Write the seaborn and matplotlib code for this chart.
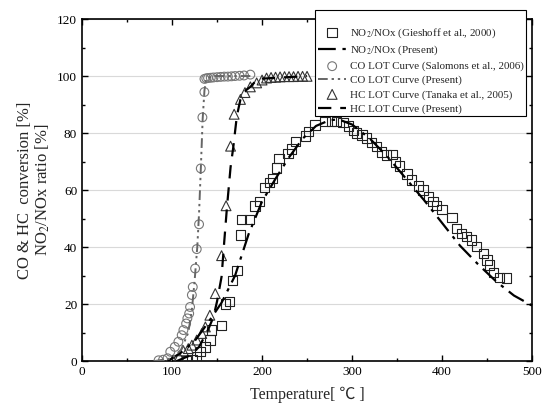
import pandas as pd
import seaborn as sns
import matplotlib.pyplot as plt
from matplotlib.ticker import MultipleLocator

# NO2/NOx ratio, measured (Gieshoff et al., 2000)
no2_x = [116, 122, 127, 131, 137, 142, 144, 155, 159, 164, 167, 172, 176, 177, 186,
         192, 197, 203, 208, 211.5, 216, 219, 229, 233, 237, 248, 251.5, 259, 270, 277,
         283, 290, 296, 301.5, 305, 311, 316, 322, 327, 333, 338.5, 345, 348.5, 353, 361,
         366, 374, 379, 385, 390, 394, 400, 411, 416, 422, 427, 433, 438.5, 446, 450,
         453, 457, 464, 472]
no2_y = [0.3, 0.6, 1.5, 3.3, 5, 7.4, 10.9, 12.4, 20, 21, 28.4, 31.7, 44.2, 49.7, 49.7,
         54.4, 55.9, 60.9, 62.7, 64.1, 67.8, 71.1, 72.9, 74.4, 77, 79, 80.5, 82.8, 84, 84.2,
         84, 83.6, 82.5, 81, 80, 79.3, 78.3, 76.7, 75.2, 73.4, 72.3, 72.5, 69.9, 68.4, 65.6,
         63.5, 61.4, 60, 57.7, 56.1, 54.7, 53.2, 50.4, 46.6, 44.8, 43.6, 42.5, 40.1, 37.8, 35.5,
         33.7, 31, 29.4, 29.2]

# NO2/NOx ratio, present model
no2_line_x = [95, 110, 125, 140, 155, 170, 185, 200, 215, 230, 245, 260, 275, 285,
              300, 320, 340, 360, 380, 400, 420, 440, 460, 480, 500]
no2_line_y = [0, 3, 7, 13.5, 20.5, 30, 44.5, 56, 64, 71.5, 78, 82.5, 84.5, 84.8,
              83, 78, 71.5, 64, 56.5, 48.5, 40.5, 34, 28, 23, 19.5]

# CO light-off, measured (Salomons et al., 2006)
co_x = [85, 90, 95, 98, 103, 107, 110.7, 112.6, 115.6, 117, 119, 120, 122, 123, 125.6,
        127.4, 130, 131.9, 133.7, 135.9, 136, 138, 140, 143, 146, 150, 154, 158, 162, 166,
        170, 175, 180, 187]
co_y = [0.3, 0.5, 1, 3.3, 5, 6.8, 9.1, 10.9, 13.2, 15, 16.7, 19, 23.2, 26, 32.5,
        39.3, 48, 67.6, 85.5, 94.4, 99, 99.2, 99.3, 99.4, 99.5, 99.6, 99.7, 99.8, 99.8, 99.9,
        100, 100.1, 100.2, 100.5]

# CO light-off, present model
co_line_x = [80, 100, 110, 118, 122, 125, 128, 130, 132, 134, 136, 138, 145, 187]
co_line_y = [0, 1, 4, 10, 18, 28, 40, 52, 68, 85, 95, 99, 100, 100]

# HC light-off, measured (Tanaka et al., 2005)
hc_x = [101, 108, 112.6, 118, 122, 127.4, 133, 137, 142, 148, 155, 160, 165, 169,
        176, 181, 187, 194, 200, 205, 210, 215, 220, 225, 230, 235, 240, 245, 250]
hc_y = [0.3, 1.5, 3.6, 4.4, 5.6, 7.4, 9.7, 12, 16.1, 23.7, 37, 54.5, 75.4, 86.6,
        91.8, 94.2, 96.2, 97.6, 98.6, 99.3, 99.5, 99.6, 99.7, 99.8, 99.8, 99.8, 99.9, 99.9, 99.9]

# HC light-off, present model
hc_line_x = [105, 120, 130, 140, 146, 150, 155, 158, 161, 165, 168, 172, 176, 182, 187, 195, 250]
hc_line_y = [0, 2, 5, 11, 15.5, 21, 29.6, 42, 54, 68, 75, 86, 91.8, 95, 96.2, 99, 100]

sns.set_style("ticks")
plt.rcParams['font.family'] = ['Liberation Serif', 'Noto Sans CJK SC', 'DejaVu Sans']
plt.rcParams['mathtext.fontset'] = 'stix'
plt.rcParams['xtick.direction'] = 'in'
plt.rcParams['ytick.direction'] = 'in'

fig, ax = plt.subplots(figsize=(5.51, 4.09), dpi=100)
fig.subplots_adjust(left=0.149, right=0.9655, bottom=0.117, top=0.9535)

ax.yaxis.grid(True, color='#d9d9d9', linewidth=0.8)
ax.set_axisbelow(True)

sns.scatterplot(x=no2_x, y=no2_y, marker='s', s=45, facecolor='none', edgecolor='#222222',
                linewidth=0.8, label='NO$_2$/NOx (Gieshoff et al., 2000)', ax=ax, zorder=3)
sns.lineplot(x=no2_line_x, y=no2_line_y, color='black', linewidth=1.6,
             label='NO$_2$/NOx (Present)', ax=ax, zorder=4)
ax.lines[-1].set_linestyle((0, (8, 3, 1.5, 3)))

sns.scatterplot(x=co_x, y=co_y, marker='o', s=40, facecolor='none', edgecolor='#777777',
                linewidth=0.8, label='CO LOT Curve (Salomons et al., 2006)', ax=ax, zorder=3)
sns.lineplot(x=co_line_x, y=co_line_y, color='#666666', linewidth=1.4,
             label='CO LOT Curve (Present)', ax=ax, zorder=4)
ax.lines[-1].set_linestyle((0, (5, 2, 1.2, 2, 1.2, 2)))

sns.scatterplot(x=hc_x, y=hc_y, marker='^', s=50, facecolor='none', edgecolor='#333333',
                linewidth=0.8, label='HC LOT Curve (Tanaka et al., 2005)', ax=ax, zorder=3)
sns.lineplot(x=hc_line_x, y=hc_line_y, color='black', linewidth=1.6,
             label='HC LOT Curve (Present)', ax=ax, zorder=4)
ax.lines[-1].set_linestyle((0, (6, 4)))

ax.set_xlim(0, 500)
ax.set_ylim(0, 120)
ax.xaxis.set_major_locator(MultipleLocator(100))
ax.xaxis.set_minor_locator(MultipleLocator(50))
ax.yaxis.set_major_locator(MultipleLocator(20))
ax.yaxis.set_minor_locator(MultipleLocator(10))
ax.tick_params(which='both', top=True, right=True, labelsize=9.5, width=1, colors='black')
ax.tick_params(which='major', length=4)
ax.tick_params(which='minor', length=2.5)
for sp in ax.spines.values():
    sp.set_linewidth(1.2)
    sp.set_color('black')

ax.set_xlabel('Temperature[ ℃ ]', fontsize=11.5, labelpad=6)
ax.set_ylabel('CO & HC  conversion [%]\nNO$_2$/NOx ratio [%]', fontsize=12, linespacing=1.0)

handles, labels = ax.get_legend_handles_labels()
leg = ax.legend(handles, labels, loc='upper left', bbox_to_anchor=(0.518, 1.026),
                borderaxespad=0, fontsize=7.9, frameon=True, fancybox=False,
                edgecolor='black', framealpha=1, handlelength=2.6, handletextpad=0.3,
                labelspacing=0.38, borderpad=0.25, title=' ', title_fontsize=8)
leg.get_frame().set_linewidth(0.8)
leg.set_zorder(10)

plt.savefig('out.png', dpi=100)
